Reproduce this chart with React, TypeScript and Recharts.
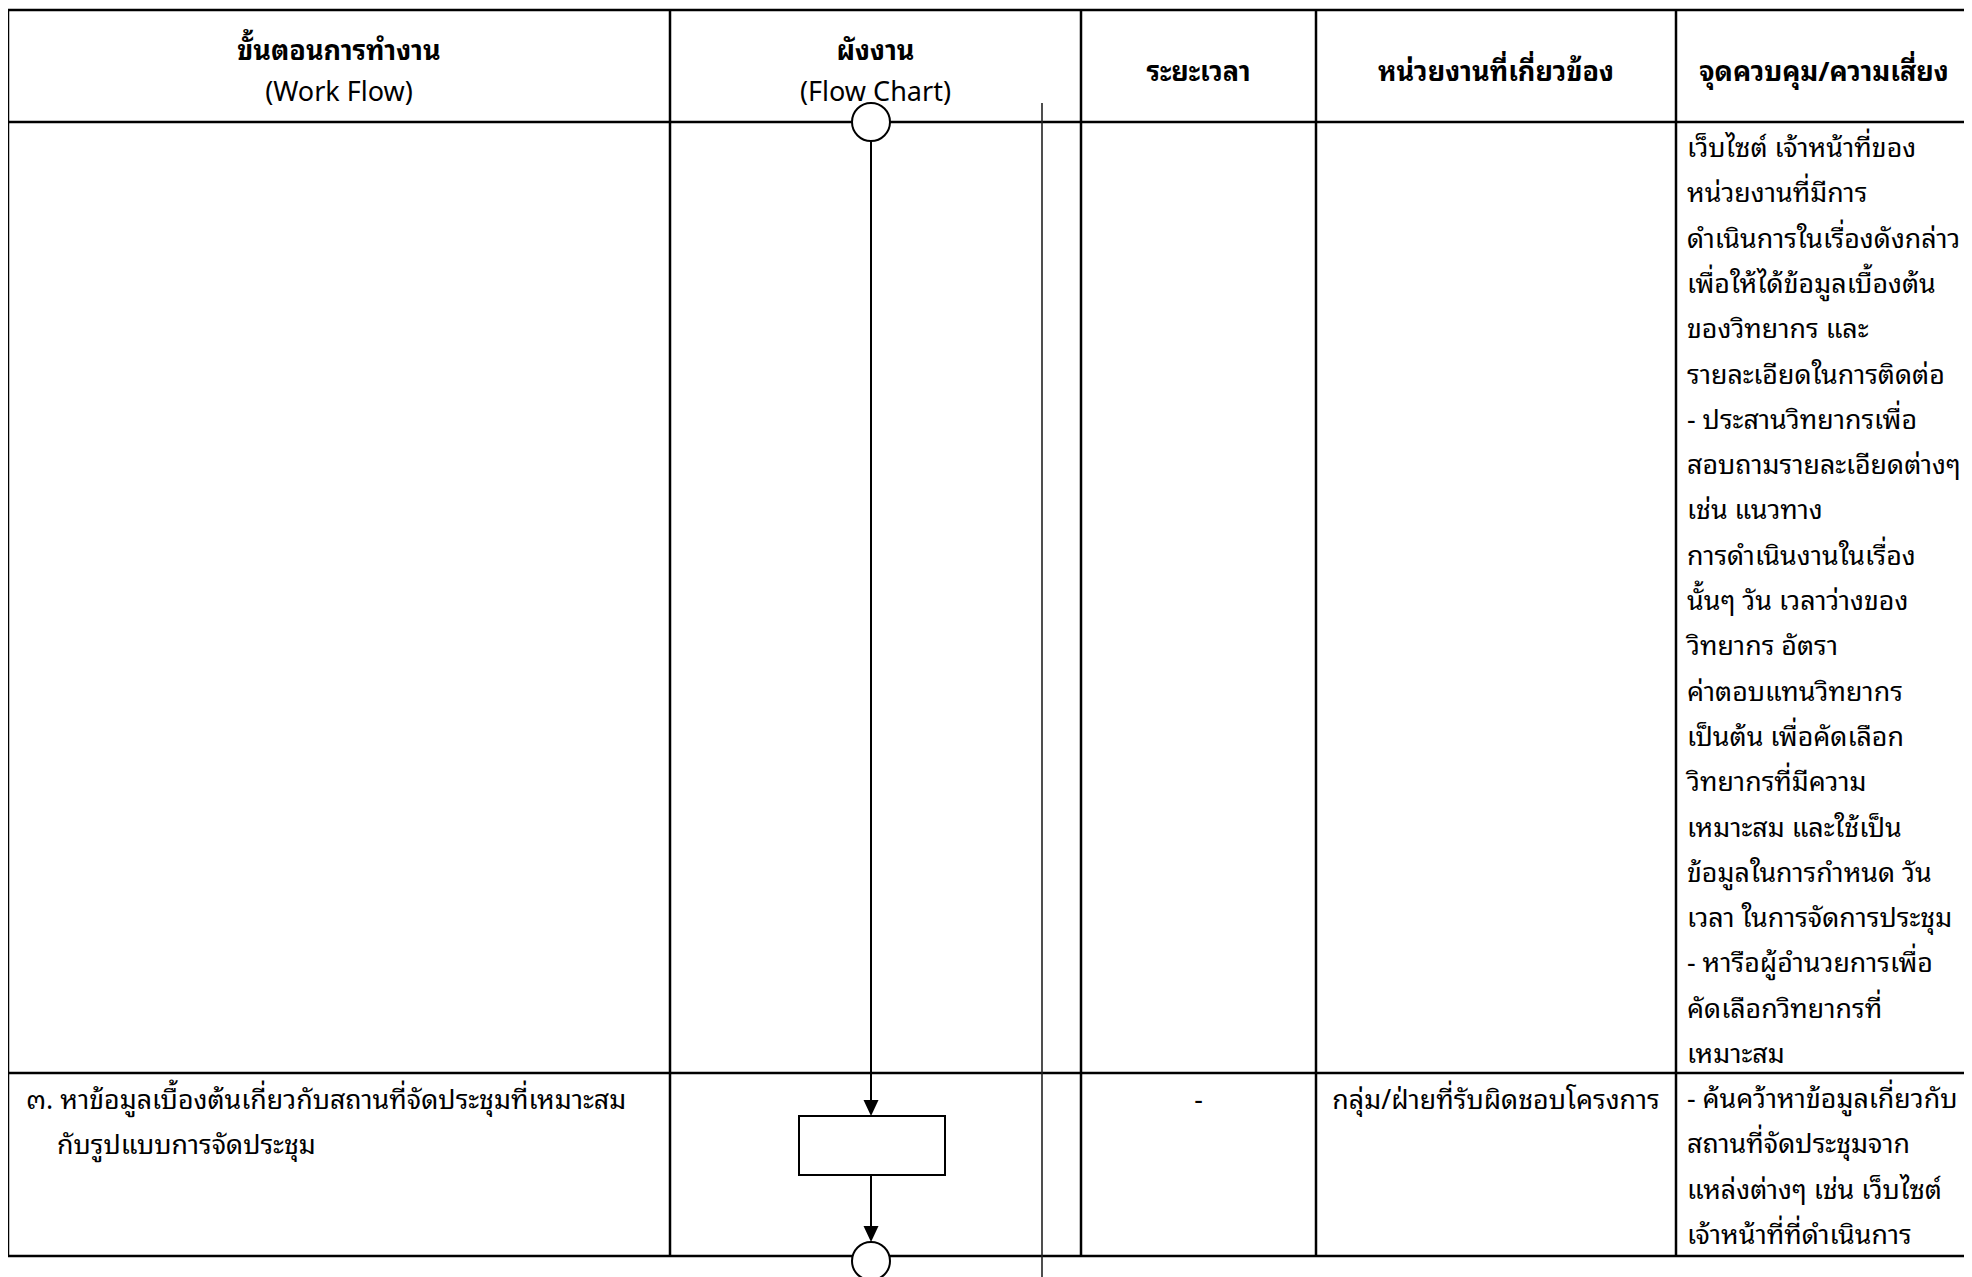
import React from 'react';
import { ComposedChart, XAxis, YAxis, ReferenceLine, ReferenceArea, ReferenceDot, Scatter } from 'recharts';

// ---- content ----
const headerTitles = ['ขั้นตอนการทำงาน', 'ผังงาน', 'ระยะเวลา', 'หน่วยงานที่เกี่ยวข้อง', 'จุดควบคุม/ความเสี่ยง'];
const headerSubtitles = ['(Work Flow)', '(Flow Chart)', '', '', ''];

const row1Control = [
  'เว็บไซต์ เจ้าหน้าที่ของ',
  'หน่วยงานที่มีการ',
  'ดำเนินการในเรื่องดังกล่าว',
  'เพื่อให้ได้ข้อมูลเบื้องต้น',
  'ของวิทยากร และ',
  'รายละเอียดในการติดต่อ',
  '- ประสานวิทยากรเพื่อ',
  'สอบถามรายละเอียดต่างๆ',
  'เช่น แนวทาง',
  'การดำเนินงานในเรื่อง',
  'นั้นๆ วัน เวลาว่างของ',
  'วิทยากร อัตรา',
  'ค่าตอบแทนวิทยากร',
  'เป็นต้น เพื่อคัดเลือก',
  'วิทยากรที่มีความ',
  'เหมาะสม และใช้เป็น',
  'ข้อมูลในการกำหนด วัน',
  'เวลา ในการจัดการประชุม',
  '- หารือผู้อำนวยการเพื่อ',
  'คัดเลือกวิทยากรที่',
  'เหมาะสม',
];

const row2Step = ['๓. หาข้อมูลเบื้องต้นเกี่ยวกับสถานที่จัดประชุมที่เหมาะสม', 'กับรูปแบบการจัดประชุม'];
const row2Duration = ['-'];
const row2Unit = ['กลุ่ม/ฝ่ายที่รับผิดชอบโครงการ'];
const row2Control = [
  '- ค้นคว้าหาข้อมูลเกี่ยวกับ',
  'สถานที่จัดประชุมจาก',
  'แหล่งต่างๆ เช่น เว็บไซต์',
  'เจ้าหน้าที่ที่ดำเนินการ',
];

// flow chart marks (page coordinates)
const flowArrowTips = [
  { x: 871, y: 1116 },
  { x: 871, y: 1242 },
];
const flowConnectors = [
  { x: 871, y: 122 },
  { x: 871, y: 1261 },
];

// ---- layout ----
const W = 1964;
const H = 1269;
const COL_X = [8, 670, 1081, 1316, 1676, 1972];
const ROW_Y = [10, 122, 1073, 1256];
const FONT = "'Noto Sans Thai Looped', 'Noto Sans Thai', 'Noto Sans Thai UI', Tahoma, 'DejaVu Sans', 'Noto Sans', sans-serif";
const BODY_SIZE = 26.8;
const HEAD_SIZE = 27;
const LINE_H = 45.3;

type BlockOpts = {
  align: 'start' | 'middle';
  padX?: number;
  firstY: number;
  lineH?: number;
  size?: number;
  weights?: (string | number)[];
  indent?: number;
};

const textBlock = (lines: string[], o: BlockOpts) => (props: any) => {
  const vb = props.viewBox || { x: 0, y: 0, width: 0, height: 0 };
  const baseX = o.align === 'middle' ? vb.x + vb.width / 2 : vb.x + (o.padX || 0);
  return (
    <text
      fontFamily={FONT}
      fontSize={o.size || BODY_SIZE}
      fill="#000"
      textAnchor={o.align === 'middle' ? 'middle' : 'start'}
    >
      {lines.map((l, i) => (
        <tspan
          key={i}
          x={baseX + (i > 0 && o.indent ? o.indent : 0)}
          y={vb.y + o.firstY + i * (o.lineH || LINE_H)}
          fontWeight={o.weights ? o.weights[i] : 'normal'}
        >
          {l}
        </tspan>
      ))}
    </text>
  );
};

const ArrowHead = (p: any) => {
  const { cx, cy } = p;
  return <polygon points={`${cx},${cy} ${cx - 7.5},${cy - 16} ${cx + 7.5},${cy - 16}`} fill="#000" />;
};

export default function App() {
  const hLines = ROW_Y.map((y) => ({ y }));
  return (
    <div style={{ width: W, height: H }}>
      <ComposedChart width={W} height={H} margin={{ top: 0, right: 0, bottom: 0, left: 0 }} data={flowArrowTips}>
        <XAxis type="number" dataKey="x" domain={[8, 1972]} hide allowDataOverflow />
        <YAxis type="number" dataKey="y" domain={[8, 1277]} reversed hide allowDataOverflow />

        {/* text cells */}
        {headerTitles.map((t, i) => (
          <ReferenceArea
            key={'h' + i}
            x1={COL_X[i]}
            x2={COL_X[i + 1]}
            y1={ROW_Y[0]}
            y2={ROW_Y[1]}
            fill="none"
            fillOpacity={0}
            stroke="none"
            ifOverflow="visible"
            label={textBlock(
              headerSubtitles[i] ? [t, headerSubtitles[i]] : [t],
              headerSubtitles[i]
                ? { align: 'middle', firstY: 50, lineH: 41, size: HEAD_SIZE, weights: ['bold', 'normal'] }
                : { align: 'middle', firstY: 71, size: HEAD_SIZE, weights: ['bold'] }
            )}
          />
        ))}
        <ReferenceArea
          x1={COL_X[4]} x2={COL_X[5]} y1={ROW_Y[1]} y2={ROW_Y[2]}
          fill="none" fillOpacity={0} stroke="none" ifOverflow="visible"
          label={textBlock(row1Control, { align: 'start', padX: 11, firstY: 35 })}
        />
        <ReferenceArea
          x1={COL_X[0]} x2={COL_X[1]} y1={ROW_Y[2]} y2={ROW_Y[3]}
          fill="none" fillOpacity={0} stroke="none" ifOverflow="visible"
          label={textBlock(row2Step, { align: 'start', padX: 18, firstY: 36, indent: 31 })}
        />
        <ReferenceArea
          x1={COL_X[2]} x2={COL_X[3]} y1={ROW_Y[2]} y2={ROW_Y[3]}
          fill="none" fillOpacity={0} stroke="none" ifOverflow="visible"
          label={textBlock(row2Duration, { align: 'middle', firstY: 36 })}
        />
        <ReferenceArea
          x1={COL_X[3]} x2={COL_X[4]} y1={ROW_Y[2]} y2={ROW_Y[3]}
          fill="none" fillOpacity={0} stroke="none" ifOverflow="visible"
          label={textBlock(row2Unit, { align: 'middle', firstY: 36 })}
        />
        <ReferenceArea
          x1={COL_X[4]} x2={COL_X[5]} y1={ROW_Y[2]} y2={ROW_Y[3]}
          fill="none" fillOpacity={0} stroke="none" ifOverflow="visible"
          label={textBlock(row2Control, { align: 'start', padX: 11, firstY: 35 })}
        />

        {/* table grid */}
        {hLines.map((l, i) => (
          <ReferenceLine
            key={'hl' + i}
            segment={[{ x: COL_X[0], y: l.y }, { x: COL_X[5], y: l.y }]}
            stroke="#000"
            strokeWidth={2.5}
            ifOverflow="visible"
          />
        ))}
        {COL_X.slice(0, 5).map((x, i) => (
          <ReferenceLine
            key={'vl' + i}
            segment={[{ x, y: ROW_Y[0] }, { x, y: ROW_Y[3] }]}
            stroke="#000"
            strokeWidth={2.5}
            ifOverflow="visible"
          />
        ))}
        <ReferenceLine
          segment={[{ x: 1042, y: 103 }, { x: 1042, y: 1277 }]}
          stroke="#222"
          strokeWidth={1.6}
          ifOverflow="visible"
        />

        {/* flow chart */}
        <ReferenceLine
          segment={[{ x: 871, y: 140 }, { x: 871, y: 1102 }]}
          stroke="#000" strokeWidth={2} ifOverflow="visible"
        />
        <ReferenceLine
          segment={[{ x: 871, y: 1175 }, { x: 871, y: 1228 }]}
          stroke="#000" strokeWidth={2} ifOverflow="visible"
        />
        <ReferenceArea
          x1={799} x2={945} y1={1116} y2={1175}
          fill="#fff" fillOpacity={1} stroke="#000" strokeWidth={2} ifOverflow="visible"
        />
        {flowConnectors.map((c, i) => (
          <ReferenceDot
            key={'c' + i}
            x={c.x}
            y={c.y}
            r={19}
            fill="#fff"
            fillOpacity={1}
            stroke="#000"
            strokeWidth={2}
            ifOverflow="visible"
          />
        ))}
        <Scatter data={flowArrowTips} dataKey="y" shape={ArrowHead} isAnimationActive={false} />
      </ComposedChart>
    </div>
  );
}
